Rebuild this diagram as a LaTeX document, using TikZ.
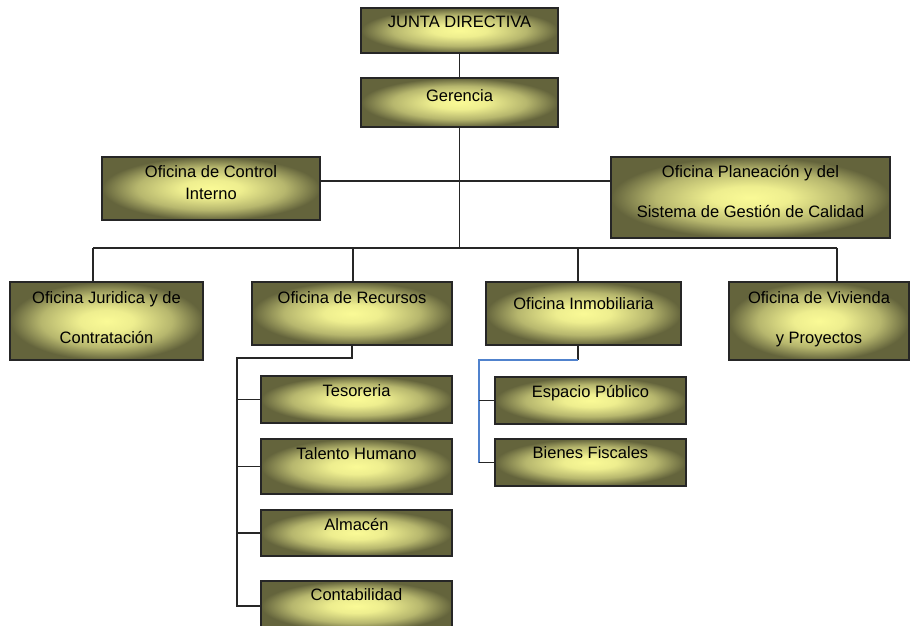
\documentclass[tikz,border=0pt]{standalone}
\usepackage{fontspec}
\setmainfont{Liberation Sans}
\usepackage{tikz}
\usetikzlibrary{positioning}
\definecolor{olivedark}{RGB}{100,100,60}
\definecolor{olivelight}{RGB}{250,250,150}
\definecolor{trunkblue}{RGB}{80,130,205}
\pgfdeclareradialshading{boxglow}{\pgfpoint{0bp}{0bp}}{%
  color(0bp)=(olivelight); color(7bp)=(olivelight!92!olivedark);
  color(17bp)=(olivelight!55!olivedark); color(25bp)=(olivedark);
  color(50bp)=(olivedark)}

\begin{document}
\begin{tikzpicture}[x=1pt,y=-1pt]
    \tikzset{orgbox/.style = {rectangle,draw=black!85,line width=1.3pt,shading=boxglow}}
    \tikzset{lbl/.style = {inner sep=0pt,anchor=north,align=center,font={\fontsize{16.5}{18}\selectfont}}}
    \tikzset{link/.style = {line width=1.2pt,draw=black!85}}
    \clip (0,0) rectangle (910,626);
    % boxes
    \node[orgbox,minimum width=197,minimum height=45] (junta) at (459.5,30.5) {};
    \node[orgbox,minimum width=197,minimum height=49] (ger) at (459.5,102.5) {};
    \node[orgbox,minimum width=218,minimum height=63] (ctrl) at (211,188.5) {};
    \node[orgbox,minimum width=279,minimum height=81] (plan) at (750.5,197.5) {};
    \node[orgbox,minimum width=193,minimum height=78] (jur) at (106.5,321) {};
    \node[orgbox,minimum width=200,minimum height=63] (rec) at (352,313.5) {};
    \node[orgbox,minimum width=195,minimum height=63] (inm) at (583.5,313.5) {};
    \node[orgbox,minimum width=180,minimum height=78] (viv) at (819,321) {};
    \node[orgbox,minimum width=191,minimum height=47] (tes) at (356.5,399.5) {};
    \node[orgbox,minimum width=191,minimum height=55] (tal) at (356.5,466.5) {};
    \node[orgbox,minimum width=191,minimum height=46] (alm) at (356.5,533) {};
    \node[orgbox,minimum width=191,minimum height=50] (con) at (356.5,606) {};
    \node[orgbox,minimum width=191,minimum height=47] (esp) at (590.5,400.5) {};
    \node[orgbox,minimum width=191,minimum height=47] (bie) at (590.5,462.5) {};
    % texts
    \node[lbl] (tjunta) at ([yshift=-8.4]junta.north) {JUNTA DIRECTIVA};
    \node[lbl] (tger) at ([yshift=-12.4]ger.north) {Gerencia};
    \node[lbl] (tctrl) at ([yshift=-9.4]ctrl.north) {Oficina de Control\\[4pt]Interno};
    \node[lbl] (tplan) at ([yshift=-8.4]plan.north) {Oficina Planeación y del\\[22pt]Sistema de Gestión de Calidad};
    \node[lbl] (tjur) at ([yshift=-10.4]jur.north) {Oficina Juridica y de\\[22pt]Contratación};
    \node[lbl] (trec) at ([yshift=-10.4]rec.north) {Oficina de Recursos};
    \node[lbl] (tinm) at ([yshift=-16.4]inm.north) {Oficina Inmobiliaria};
    \node[lbl] (tviv) at ([yshift=-10.4]viv.north) {Oficina de Vivienda\\[22pt]y Proyectos};
    \node[lbl] (ttes) at ([yshift=-9.4]tes.north) {Tesoreria};
    \node[lbl] (ttal) at ([yshift=-9.4]tal.north) {Talento Humano};
    \node[lbl] (talm) at ([yshift=-8.4]alm.north) {Almacén};
    \node[lbl] (tcon) at ([yshift=-8.4]con.north) {Contabilidad};
    \node[lbl] (tesp) at ([yshift=-8.4]esp.north) {Espacio Público};
    \node[lbl] (tbie) at ([yshift=-8.4]bie.north) {Bienes Fiscales};
    % junctions
    \coordinate (mid) at (459.5,181);
    \coordinate (hub) at (459.5,248);
    \coordinate (d1) at (93,248);
    \coordinate (d2) at (353,248);
    \coordinate (d3) at (578,248);
    \coordinate (d4) at (837,248);
    \coordinate (rtrunk) at (237,358);
    \coordinate (itrunk) at (479,360);
    %lines
    \draw[link] (junta) -- (ger);
    \draw[link] (ger) -- (hub);
    \draw[link] (ctrl.east |- mid) -- (plan.west |- mid);
    \draw[link] (d1) -- (d4);
    \draw[link] (d1) -- (d1 |- jur.north);
    \draw[link] (d2) -- (d2 |- rec.north);
    \draw[link] (d3) -- (d3 |- inm.north);
    \draw[link] (d4) -- (d4 |- viv.north);
    \draw[link] (rec.south) -- (rec.south |- rtrunk) -- (rtrunk) -- (rtrunk |- con.west) -- (con.west);
    \draw[link] (rtrunk |- tes.west) -- (tes.west);
    \draw[link] (rtrunk |- tal.west) -- (tal.west);
    \draw[link] (rtrunk |- alm.west) -- (alm.west);
    \draw[link] (d3 |- inm.south) -- (d3 |- itrunk);
    \draw[link,draw=trunkblue] (d3 |- itrunk) -- (itrunk) -- (itrunk |- bie.west);
    \draw[link] (itrunk |- esp.west) -- (esp.west);
    \draw[link] (itrunk |- bie.west) -- (bie.west);
\end{tikzpicture}
\end{document}
